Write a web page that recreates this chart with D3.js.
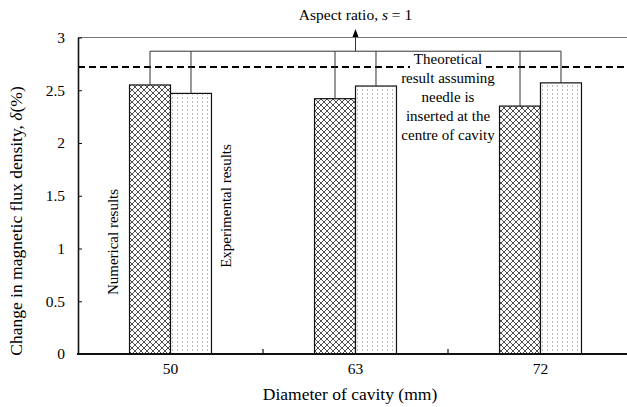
<!DOCTYPE html>
<html>
<head>
<meta charset="utf-8">
<script src="https://cdn.jsdelivr.net/npm/d3@7"></script>
<style>
  html, body { margin: 0; padding: 0; background: #fff; }
  svg { display: block; font-family: "Liberation Serif", "Times New Roman", serif; }
</style>
</head>
<body>
<svg id="chart" width="627" height="407"></svg>
<script>
// Cavity diameters (mm) and change in magnetic flux density (%)
const diameters = ["50", "63", "72"];
const seriesNames = ["Numerical results", "Experimental results"];
const numerical = [2.55, 2.42, 2.35];
const experimental = [2.47, 2.54, 2.57];
const theoretical = 2.72;
const yTicks = [0, 0.5, 1, 1.5, 2, 2.5, 3];
const yTickLabels = ["0", "0.5", "1", "1.5", "2", "2.5", "3"];
const theoryLines = ["Theoretical", "result assuming", "needle is", "inserted at the", "centre of cavity"];

const svg = d3.select("#chart");
const W = 627, H = 407;
const plotLeft = 78, plotBottom = 354, plotTop = 37.5;

const x = d3.scaleBand().domain(diameters).range([plotLeft, 633]).padding(0);
const y = d3.scaleLinear().domain([0, 3]).range([plotBottom, plotTop]);
const groupW = x.bandwidth() * 0.443;
const xs = d3.scaleBand().domain(seriesNames).range([0, groupW]).padding(0);

// patterns
const defs = svg.append("defs");
const hatch = defs.append("pattern").attr("id", "hatch")
  .attr("patternUnits", "userSpaceOnUse").attr("width", 6).attr("height", 6);
hatch.append("rect").attr("width", 6).attr("height", 6).attr("fill", "#fff");
hatch.append("path").attr("d", "M0,0L6,6M6,0L0,6M-1,5L1,7M5,-1L7,1M-1,1L1,-1M5,7L7,5")
  .attr("stroke", "#222").attr("stroke-width", 0.8).attr("fill", "none");
const dots = defs.append("pattern").attr("id", "dots")
  .attr("patternUnits", "userSpaceOnUse").attr("width", 5).attr("height", 4);
dots.append("rect").attr("width", 5).attr("height", 4).attr("fill", "#fff");
dots.append("rect").attr("x", 2).attr("y", 1.5).attr("width", 1).attr("height", 1).attr("fill", "#777");

// top frame line at y = 3
svg.append("line").attr("x1", plotLeft).attr("x2", W).attr("y1", y(3)).attr("y2", y(3))
  .attr("stroke", "#777").attr("stroke-width", 1);

// theoretical dashed line
svg.append("line").attr("x1", plotLeft).attr("x2", W)
  .attr("y1", y(theoretical)).attr("y2", y(theoretical))
  .attr("stroke", "#000").attr("stroke-width", 2).attr("stroke-dasharray", "7,4");

// bars
const rows = diameters.map((d, i) => ({ d, vals: [numerical[i], experimental[i]] }));
const g = svg.append("g");
rows.forEach(r => {
  const x0 = x(r.d) + x.bandwidth() / 2 - groupW / 2;
  r.vals.forEach((v, j) => {
    const s = seriesNames[j];
    g.append("rect")
      .attr("x", x0 + xs(s)).attr("y", y(v))
      .attr("width", xs.bandwidth()).attr("height", y(0) - y(v))
      .attr("fill", j === 0 ? "url(#hatch)" : "url(#dots)")
      .attr("stroke", "#111").attr("stroke-width", 1.2);
  });
});

// bracket linking all bars to the aspect-ratio note
const bracketY = y(2.87);
const centers = [];
rows.forEach(r => {
  const x0 = x(r.d) + x.bandwidth() / 2 - groupW / 2;
  r.vals.forEach((v, j) => {
    const cx = x0 + xs(seriesNames[j]) + xs.bandwidth() / 2;
    centers.push(cx);
    svg.append("line").attr("x1", cx).attr("x2", cx).attr("y1", y(v)).attr("y2", bracketY)
      .attr("stroke", "#333").attr("stroke-width", 1);
  });
});
svg.append("line").attr("x1", d3.min(centers)).attr("x2", d3.max(centers))
  .attr("y1", bracketY).attr("y2", bracketY).attr("stroke", "#333").attr("stroke-width", 1);
const ax = x("63") + x.bandwidth() / 2;
const tipY = y(3.08);
svg.append("line").attr("x1", ax).attr("x2", ax).attr("y1", bracketY).attr("y2", tipY + 6)
  .attr("stroke", "#333").attr("stroke-width", 1);
svg.append("path").attr("d", `M${ax},${tipY}L${ax - 3},${tipY + 8}L${ax + 3},${tipY + 8}Z`).attr("fill", "#000");

const asp = svg.append("text").attr("x", ax).attr("y", 20).attr("text-anchor", "middle")
  .attr("font-size", 15.5);
asp.append("tspan").text("Aspect ratio, ");
asp.append("tspan").attr("font-style", "italic").text("s");
asp.append("tspan").text(" = 1");

// theoretical annotation
const tx = x("72");
const tGroup = svg.append("g");
const firstW = 72;
tGroup.append("rect").attr("x", tx - firstW / 2 - 2).attr("y", 52).attr("width", firstW + 4).attr("height", 16)
  .attr("fill", "#fff");
theoryLines.forEach((t, i) => {
  tGroup.append("text").attr("x", tx).attr("y", 64 + i * 19).attr("text-anchor", "middle")
    .attr("font-size", 15).text(t);
});

// series labels (rotated)
const g1 = x("50") + x.bandwidth() / 2 - groupW / 2;
svg.append("text").attr("transform", `translate(${g1 - 12},242) rotate(-90)`)
  .attr("text-anchor", "middle").attr("font-size", 15).text(seriesNames[0]);
svg.append("text").attr("transform", `translate(${g1 + groupW + 20},206) rotate(-90)`)
  .attr("text-anchor", "middle").attr("font-size", 15).text(seriesNames[1]);

// axes
const yAxis = d3.axisLeft(y).tickValues(yTicks).tickFormat((d, i) => yTickLabels[i])
  .tickSizeInner(-4).tickSizeOuter(0).tickPadding(13);
const ya = svg.append("g").attr("transform", `translate(${plotLeft},0)`).call(yAxis);
ya.select(".domain").attr("stroke", "#111").attr("stroke-width", 1.6);
ya.selectAll(".tick line").attr("stroke", "#111");
ya.selectAll(".tick text").attr("font-size", 15.5).attr("font-family", "Liberation Serif").attr("fill", "#000");

const xa = svg.append("g").attr("transform", `translate(0,${plotBottom})`)
  .call(d3.axisBottom(x).tickSize(0).tickPadding(9));
xa.select(".domain").remove();
xa.selectAll(".tick text").attr("font-size", 15.5).attr("font-family", "Liberation Serif").attr("fill", "#000");
svg.append("line").attr("x1", plotLeft - 1).attr("x2", W).attr("y1", plotBottom).attr("y2", plotBottom)
  .attr("stroke", "#111").attr("stroke-width", 2);
// inward ticks at category boundaries
diameters.slice(1).forEach(d => {
  svg.append("line").attr("x1", x(d)).attr("x2", x(d)).attr("y1", plotBottom).attr("y2", plotBottom - 5)
    .attr("stroke", "#111").attr("stroke-width", 1.2);
});

// axis titles
svg.append("text").attr("x", 350).attr("y", 400).attr("text-anchor", "middle")
  .attr("font-size", 17.5).text("Diameter of cavity (mm)");
const yt = svg.append("text").attr("transform", "translate(22,221) rotate(-90)")
  .attr("text-anchor", "middle").attr("font-size", 17.5);
yt.append("tspan").text("Change in magnetic flux density, ");
yt.append("tspan").attr("font-style", "italic").text("δ");
yt.append("tspan").text("(%)");
</script>
</body>
</html>
